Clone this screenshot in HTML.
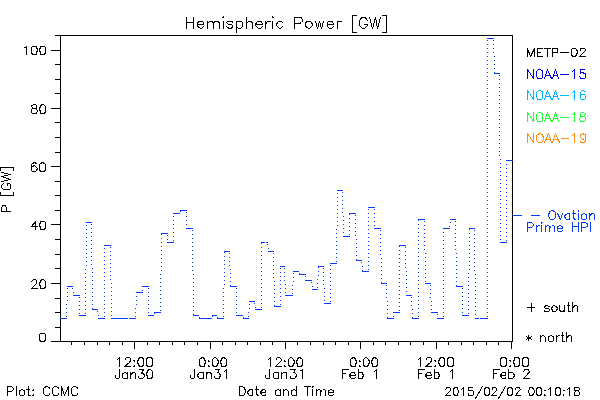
<!DOCTYPE html>
<html><head><meta charset="utf-8"><style>
html,body{margin:0;padding:0;background:#fff;width:600px;height:400px;overflow:hidden}
svg{display:block}
</style></head><body>
<svg width="600" height="400" viewBox="0 0 600 400">
<rect width="600" height="400" fill="#fff"/>
<g shape-rendering="crispEdges" stroke="#000" stroke-width="1" fill="none">
<path d="M60.5 35V342M512.5 35V342M55 35.5H513M51 341.5H513"/>
<path d="M51 341.5H60M55 327.5H60M55 312.5H60M55 298.5H60M51 283.5H60M55 268.5H60M55 254.5H60M55 239.5H60M51 224.5H60M55 210.5H60M55 195.5H60M55 181.5H60M51 166.5H60M55 152.5H60M55 137.5H60M55 122.5H60M51 108.5H60M55 93.5H60M55 79.5H60M55 64.5H60M51 50.5H60M55 35.5H60M71.5 342V345M84.5 342V345M97.5 342V345M109.5 342V345M122.5 342V345M134.5 342V349M147.5 342V345M159.5 342V345M172.5 342V345M184.5 342V345M197.5 342V345M210.5 342V349M222.5 342V345M235.5 342V345M247.5 342V345M260.5 342V345M272.5 342V345M285.5 342V349M297.5 342V345M310.5 342V345M323.5 342V345M335.5 342V345M348.5 342V345M360.5 342V349M373.5 342V345M385.5 342V345M398.5 342V345M410.5 342V345M423.5 342V345M436.5 342V349M448.5 342V345M461.5 342V345M473.5 342V345M486.5 342V345M498.5 342V345M511.5 342V349"/>
</g>
<g shape-rendering="crispEdges" stroke="#0a3cff" stroke-width="1" fill="none">
<path d="M60 318.5H67M67 286.5H73M73 295.5H80M79 315.5H86M86 222.5H92M92 309.5H98M98 318.5H105M104 245.5H111M111 318.5H136M136 292.5H143M142 286.5H149M148 315.5H154M154 312.5H161M161 233.5H168M167 242.5H174M173 213.5H180M180 210.5H187M186 228.5H193M193 315.5H199M199 318.5H212M212 315.5H217M217 318.5H224M224 251.5H230M230 286.5H237M236 315.5H243M243 318.5H249M249 301.5H255M255 309.5H262M261 242.5H268M268 251.5H274M274 306.5H281M280 266.5H285M285 295.5H293M293 271.5H299M299 274.5H306M305 280.5H312M312 289.5H318M318 266.5H324M324 303.5H331M330 263.5H337M337 190.5H343M343 236.5H350M349 213.5H356M356 260.5H362M362 271.5H369M368 207.5H375M374 228.5H381M381 283.5H387M387 318.5H394M393 312.5H400M399 245.5H406M406 295.5H412M412 318.5H419M418 219.5H425M425 283.5H431M431 312.5H438M437 318.5H444M443 228.5H450M450 219.5H456M456 286.5H463M462 315.5H469M469 228.5H475M475 318.5H488M487 38.5H494M494 73.5H500M500 242.5H507M506 160.5H513M513 215.5H522"/>
<path d="M66 304h1v1h-1zM66 308h1v1h-1zM66 312h1v1h-1zM66 316h1v1h-1zM67 288h1v1h-1zM67 292h1v1h-1zM67 296h1v1h-1zM67 300h1v1h-1zM72 288h1v1h-1zM73 292h1v1h-1zM79 297h1v1h-1zM79 301h1v1h-1zM79 305h1v1h-1zM79 309h1v1h-1zM79 313h1v1h-1zM85 269h1v1h-1zM85 273h1v1h-1zM85 277h1v1h-1zM85 281h1v1h-1zM85 285h1v1h-1zM85 289h1v1h-1zM85 293h1v1h-1zM85 297h1v1h-1zM85 301h1v1h-1zM85 305h1v1h-1zM85 309h1v1h-1zM85 313h1v1h-1zM86 225h1v1h-1zM86 229h1v1h-1zM86 233h1v1h-1zM86 237h1v1h-1zM86 241h1v1h-1zM86 245h1v1h-1zM86 249h1v1h-1zM86 253h1v1h-1zM86 257h1v1h-1zM86 261h1v1h-1zM86 265h1v1h-1zM91 224h1v1h-1zM91 228h1v1h-1zM91 232h1v1h-1zM91 236h1v1h-1zM91 240h1v1h-1zM91 244h1v1h-1zM91 248h1v1h-1zM91 252h1v1h-1zM91 256h1v1h-1zM91 260h1v1h-1zM91 264h1v1h-1zM92 268h1v1h-1zM92 272h1v1h-1zM92 276h1v1h-1zM92 280h1v1h-1zM92 284h1v1h-1zM92 288h1v1h-1zM92 292h1v1h-1zM92 296h1v1h-1zM92 300h1v1h-1zM92 304h1v1h-1zM92 308h1v1h-1zM97 311h1v1h-1zM98 315h1v1h-1zM104 248h1v1h-1zM104 252h1v1h-1zM104 256h1v1h-1zM104 260h1v1h-1zM104 264h1v1h-1zM104 268h1v1h-1zM104 272h1v1h-1zM104 276h1v1h-1zM104 280h1v1h-1zM104 284h1v1h-1zM104 288h1v1h-1zM104 292h1v1h-1zM104 296h1v1h-1zM104 300h1v1h-1zM104 304h1v1h-1zM104 308h1v1h-1zM104 312h1v1h-1zM104 316h1v1h-1zM110 247h1v1h-1zM110 251h1v1h-1zM110 255h1v1h-1zM110 259h1v1h-1zM110 263h1v1h-1zM110 267h1v1h-1zM110 271h1v1h-1zM110 275h1v1h-1zM110 279h1v1h-1zM111 283h1v1h-1zM111 287h1v1h-1zM111 291h1v1h-1zM111 295h1v1h-1zM111 299h1v1h-1zM111 303h1v1h-1zM111 307h1v1h-1zM111 311h1v1h-1zM111 315h1v1h-1zM135 308h1v1h-1zM135 312h1v1h-1zM135 316h1v1h-1zM136 296h1v1h-1zM136 300h1v1h-1zM136 304h1v1h-1zM142 290h1v1h-1zM148 288h1v1h-1zM148 292h1v1h-1zM148 296h1v1h-1zM148 300h1v1h-1zM148 304h1v1h-1zM148 308h1v1h-1zM148 312h1v1h-1zM154 313h1v1h-1zM160 274h1v1h-1zM160 278h1v1h-1zM160 282h1v1h-1zM160 286h1v1h-1zM160 290h1v1h-1zM160 294h1v1h-1zM160 298h1v1h-1zM160 302h1v1h-1zM160 306h1v1h-1zM160 310h1v1h-1zM161 234h1v1h-1zM161 238h1v1h-1zM161 242h1v1h-1zM161 246h1v1h-1zM161 250h1v1h-1zM161 254h1v1h-1zM161 258h1v1h-1zM161 262h1v1h-1zM161 266h1v1h-1zM161 270h1v1h-1zM167 235h1v1h-1zM167 239h1v1h-1zM173 216h1v1h-1zM173 220h1v1h-1zM173 224h1v1h-1zM173 228h1v1h-1zM173 232h1v1h-1zM173 236h1v1h-1zM173 240h1v1h-1zM180 211h1v1h-1zM186 212h1v1h-1zM186 216h1v1h-1zM186 220h1v1h-1zM186 224h1v1h-1zM192 230h1v1h-1zM192 234h1v1h-1zM192 238h1v1h-1zM192 242h1v1h-1zM192 246h1v1h-1zM192 250h1v1h-1zM192 254h1v1h-1zM192 258h1v1h-1zM192 262h1v1h-1zM192 266h1v1h-1zM192 270h1v1h-1zM193 274h1v1h-1zM193 278h1v1h-1zM193 282h1v1h-1zM193 286h1v1h-1zM193 290h1v1h-1zM193 294h1v1h-1zM193 298h1v1h-1zM193 302h1v1h-1zM193 306h1v1h-1zM193 310h1v1h-1zM193 314h1v1h-1zM199 317h1v1h-1zM212 316h1v1h-1zM217 317h1v1h-1zM223 288h1v1h-1zM223 292h1v1h-1zM223 296h1v1h-1zM223 300h1v1h-1zM223 304h1v1h-1zM223 308h1v1h-1zM223 312h1v1h-1zM223 316h1v1h-1zM224 252h1v1h-1zM224 256h1v1h-1zM224 260h1v1h-1zM224 264h1v1h-1zM224 268h1v1h-1zM224 272h1v1h-1zM224 276h1v1h-1zM224 280h1v1h-1zM224 284h1v1h-1zM229 253h1v1h-1zM229 257h1v1h-1zM229 261h1v1h-1zM229 265h1v1h-1zM230 269h1v1h-1zM230 273h1v1h-1zM230 277h1v1h-1zM230 281h1v1h-1zM230 285h1v1h-1zM236 288h1v1h-1zM236 292h1v1h-1zM236 296h1v1h-1zM236 300h1v1h-1zM236 304h1v1h-1zM236 308h1v1h-1zM236 312h1v1h-1zM243 317h1v1h-1zM248 312h1v1h-1zM248 316h1v1h-1zM249 304h1v1h-1zM249 308h1v1h-1zM254 303h1v1h-1zM255 307h1v1h-1zM261 243h1v1h-1zM261 247h1v1h-1zM261 251h1v1h-1zM261 255h1v1h-1zM261 259h1v1h-1zM261 263h1v1h-1zM261 267h1v1h-1zM261 271h1v1h-1zM261 275h1v1h-1zM261 279h1v1h-1zM261 283h1v1h-1zM261 287h1v1h-1zM261 291h1v1h-1zM261 295h1v1h-1zM261 299h1v1h-1zM261 303h1v1h-1zM261 307h1v1h-1zM267 244h1v1h-1zM268 248h1v1h-1zM273 253h1v1h-1zM273 257h1v1h-1zM273 261h1v1h-1zM273 265h1v1h-1zM273 269h1v1h-1zM273 273h1v1h-1zM273 277h1v1h-1zM274 281h1v1h-1zM274 285h1v1h-1zM274 289h1v1h-1zM274 293h1v1h-1zM274 297h1v1h-1zM274 301h1v1h-1zM274 305h1v1h-1zM280 268h1v1h-1zM280 272h1v1h-1zM280 276h1v1h-1zM280 280h1v1h-1zM280 284h1v1h-1zM280 288h1v1h-1zM280 292h1v1h-1zM280 296h1v1h-1zM280 300h1v1h-1zM280 304h1v1h-1zM284 268h1v1h-1zM284 272h1v1h-1zM284 276h1v1h-1zM284 280h1v1h-1zM285 284h1v1h-1zM285 288h1v1h-1zM285 292h1v1h-1zM292 285h1v1h-1zM292 289h1v1h-1zM292 293h1v1h-1zM293 273h1v1h-1zM293 277h1v1h-1zM293 281h1v1h-1zM299 273h1v1h-1zM305 276h1v1h-1zM311 282h1v1h-1zM312 286h1v1h-1zM317 279h1v1h-1zM317 283h1v1h-1zM317 287h1v1h-1zM318 267h1v1h-1zM318 271h1v1h-1zM318 275h1v1h-1zM323 268h1v1h-1zM323 272h1v1h-1zM323 276h1v1h-1zM323 280h1v1h-1zM323 284h1v1h-1zM324 288h1v1h-1zM324 292h1v1h-1zM324 296h1v1h-1zM324 300h1v1h-1zM330 265h1v1h-1zM330 269h1v1h-1zM330 273h1v1h-1zM330 277h1v1h-1zM330 281h1v1h-1zM330 285h1v1h-1zM330 289h1v1h-1zM330 293h1v1h-1zM330 297h1v1h-1zM330 301h1v1h-1zM336 229h1v1h-1zM336 233h1v1h-1zM336 237h1v1h-1zM336 241h1v1h-1zM336 245h1v1h-1zM336 249h1v1h-1zM336 253h1v1h-1zM336 257h1v1h-1zM336 261h1v1h-1zM337 193h1v1h-1zM337 197h1v1h-1zM337 201h1v1h-1zM337 205h1v1h-1zM337 209h1v1h-1zM337 213h1v1h-1zM337 217h1v1h-1zM337 221h1v1h-1zM337 225h1v1h-1zM342 192h1v1h-1zM342 196h1v1h-1zM342 200h1v1h-1zM342 204h1v1h-1zM342 208h1v1h-1zM342 212h1v1h-1zM343 216h1v1h-1zM343 220h1v1h-1zM343 224h1v1h-1zM343 228h1v1h-1zM343 232h1v1h-1zM349 214h1v1h-1zM349 218h1v1h-1zM349 222h1v1h-1zM349 226h1v1h-1zM349 230h1v1h-1zM349 234h1v1h-1zM355 215h1v1h-1zM355 219h1v1h-1zM355 223h1v1h-1zM355 227h1v1h-1zM355 231h1v1h-1zM355 235h1v1h-1zM356 239h1v1h-1zM356 243h1v1h-1zM356 247h1v1h-1zM356 251h1v1h-1zM356 255h1v1h-1zM356 259h1v1h-1zM361 262h1v1h-1zM362 266h1v1h-1zM362 270h1v1h-1zM368 209h1v1h-1zM368 213h1v1h-1zM368 217h1v1h-1zM368 221h1v1h-1zM368 225h1v1h-1zM368 229h1v1h-1zM368 233h1v1h-1zM368 237h1v1h-1zM368 241h1v1h-1zM368 245h1v1h-1zM368 249h1v1h-1zM368 253h1v1h-1zM368 257h1v1h-1zM368 261h1v1h-1zM368 265h1v1h-1zM368 269h1v1h-1zM374 209h1v1h-1zM374 213h1v1h-1zM374 217h1v1h-1zM374 221h1v1h-1zM374 225h1v1h-1zM380 230h1v1h-1zM380 234h1v1h-1zM380 238h1v1h-1zM380 242h1v1h-1zM380 246h1v1h-1zM380 250h1v1h-1zM380 254h1v1h-1zM381 258h1v1h-1zM381 262h1v1h-1zM381 266h1v1h-1zM381 270h1v1h-1zM381 274h1v1h-1zM381 278h1v1h-1zM381 282h1v1h-1zM386 285h1v1h-1zM386 289h1v1h-1zM386 293h1v1h-1zM386 297h1v1h-1zM387 301h1v1h-1zM387 305h1v1h-1zM387 309h1v1h-1zM387 313h1v1h-1zM387 317h1v1h-1zM393 316h1v1h-1zM399 246h1v1h-1zM399 250h1v1h-1zM399 254h1v1h-1zM399 258h1v1h-1zM399 262h1v1h-1zM399 266h1v1h-1zM399 270h1v1h-1zM399 274h1v1h-1zM399 278h1v1h-1zM399 282h1v1h-1zM399 286h1v1h-1zM399 290h1v1h-1zM399 294h1v1h-1zM399 298h1v1h-1zM399 302h1v1h-1zM399 306h1v1h-1zM399 310h1v1h-1zM405 247h1v1h-1zM405 251h1v1h-1zM405 255h1v1h-1zM405 259h1v1h-1zM405 263h1v1h-1zM405 267h1v1h-1zM406 271h1v1h-1zM406 275h1v1h-1zM406 279h1v1h-1zM406 283h1v1h-1zM406 287h1v1h-1zM406 291h1v1h-1zM411 297h1v1h-1zM411 301h1v1h-1zM411 305h1v1h-1zM412 309h1v1h-1zM412 313h1v1h-1zM412 317h1v1h-1zM418 220h1v1h-1zM418 224h1v1h-1zM418 228h1v1h-1zM418 232h1v1h-1zM418 236h1v1h-1zM418 240h1v1h-1zM418 244h1v1h-1zM418 248h1v1h-1zM418 252h1v1h-1zM418 256h1v1h-1zM418 260h1v1h-1zM418 264h1v1h-1zM418 268h1v1h-1zM418 272h1v1h-1zM418 276h1v1h-1zM418 280h1v1h-1zM418 284h1v1h-1zM418 288h1v1h-1zM418 292h1v1h-1zM418 296h1v1h-1zM418 300h1v1h-1zM418 304h1v1h-1zM418 308h1v1h-1zM418 312h1v1h-1zM418 316h1v1h-1zM424 221h1v1h-1zM424 225h1v1h-1zM424 229h1v1h-1zM424 233h1v1h-1zM424 237h1v1h-1zM424 241h1v1h-1zM424 245h1v1h-1zM424 249h1v1h-1zM425 253h1v1h-1zM425 257h1v1h-1zM425 261h1v1h-1zM425 265h1v1h-1zM425 269h1v1h-1zM425 273h1v1h-1zM425 277h1v1h-1zM425 281h1v1h-1zM430 285h1v1h-1zM430 289h1v1h-1zM430 293h1v1h-1zM430 297h1v1h-1zM431 301h1v1h-1zM431 305h1v1h-1zM431 309h1v1h-1zM437 314h1v1h-1zM443 232h1v1h-1zM443 236h1v1h-1zM443 240h1v1h-1zM443 244h1v1h-1zM443 248h1v1h-1zM443 252h1v1h-1zM443 256h1v1h-1zM443 260h1v1h-1zM443 264h1v1h-1zM443 268h1v1h-1zM443 272h1v1h-1zM443 276h1v1h-1zM443 280h1v1h-1zM443 284h1v1h-1zM443 288h1v1h-1zM443 292h1v1h-1zM443 296h1v1h-1zM443 300h1v1h-1zM443 304h1v1h-1zM443 308h1v1h-1zM443 312h1v1h-1zM443 316h1v1h-1zM449 226h1v1h-1zM450 222h1v1h-1zM455 221h1v1h-1zM455 225h1v1h-1zM455 229h1v1h-1zM455 233h1v1h-1zM455 237h1v1h-1zM455 241h1v1h-1zM455 245h1v1h-1zM455 249h1v1h-1zM456 253h1v1h-1zM456 257h1v1h-1zM456 261h1v1h-1zM456 265h1v1h-1zM456 269h1v1h-1zM456 273h1v1h-1zM456 277h1v1h-1zM456 281h1v1h-1zM456 285h1v1h-1zM462 288h1v1h-1zM462 292h1v1h-1zM462 296h1v1h-1zM462 300h1v1h-1zM462 304h1v1h-1zM462 308h1v1h-1zM462 312h1v1h-1zM468 273h1v1h-1zM468 277h1v1h-1zM468 281h1v1h-1zM468 285h1v1h-1zM468 289h1v1h-1zM468 293h1v1h-1zM468 297h1v1h-1zM468 301h1v1h-1zM468 305h1v1h-1zM468 309h1v1h-1zM468 313h1v1h-1zM469 229h1v1h-1zM469 233h1v1h-1zM469 237h1v1h-1zM469 241h1v1h-1zM469 245h1v1h-1zM469 249h1v1h-1zM469 253h1v1h-1zM469 257h1v1h-1zM469 261h1v1h-1zM469 265h1v1h-1zM469 269h1v1h-1zM474 230h1v1h-1zM474 234h1v1h-1zM474 238h1v1h-1zM474 242h1v1h-1zM474 246h1v1h-1zM474 250h1v1h-1zM474 254h1v1h-1zM474 258h1v1h-1zM474 262h1v1h-1zM474 266h1v1h-1zM474 270h1v1h-1zM475 274h1v1h-1zM475 278h1v1h-1zM475 282h1v1h-1zM475 286h1v1h-1zM475 290h1v1h-1zM475 294h1v1h-1zM475 298h1v1h-1zM475 302h1v1h-1zM475 306h1v1h-1zM475 310h1v1h-1zM475 314h1v1h-1zM487 40h1v1h-1zM487 44h1v1h-1zM487 48h1v1h-1zM487 52h1v1h-1zM487 56h1v1h-1zM487 60h1v1h-1zM487 64h1v1h-1zM487 68h1v1h-1zM487 72h1v1h-1zM487 76h1v1h-1zM487 80h1v1h-1zM487 84h1v1h-1zM487 88h1v1h-1zM487 92h1v1h-1zM487 96h1v1h-1zM487 100h1v1h-1zM487 104h1v1h-1zM487 108h1v1h-1zM487 112h1v1h-1zM487 116h1v1h-1zM487 120h1v1h-1zM487 124h1v1h-1zM487 128h1v1h-1zM487 132h1v1h-1zM487 136h1v1h-1zM487 140h1v1h-1zM487 144h1v1h-1zM487 148h1v1h-1zM487 152h1v1h-1zM487 156h1v1h-1zM487 160h1v1h-1zM487 164h1v1h-1zM487 168h1v1h-1zM487 172h1v1h-1zM487 176h1v1h-1zM487 180h1v1h-1zM487 184h1v1h-1zM487 188h1v1h-1zM487 192h1v1h-1zM487 196h1v1h-1zM487 200h1v1h-1zM487 204h1v1h-1zM487 208h1v1h-1zM487 212h1v1h-1zM487 216h1v1h-1zM487 220h1v1h-1zM487 224h1v1h-1zM487 228h1v1h-1zM487 232h1v1h-1zM487 236h1v1h-1zM487 240h1v1h-1zM487 244h1v1h-1zM487 248h1v1h-1zM487 252h1v1h-1zM487 256h1v1h-1zM487 260h1v1h-1zM487 264h1v1h-1zM487 268h1v1h-1zM487 272h1v1h-1zM487 276h1v1h-1zM487 280h1v1h-1zM487 284h1v1h-1zM487 288h1v1h-1zM487 292h1v1h-1zM487 296h1v1h-1zM487 300h1v1h-1zM487 304h1v1h-1zM487 308h1v1h-1zM487 312h1v1h-1zM487 316h1v1h-1zM493 40h1v1h-1zM493 44h1v1h-1zM493 48h1v1h-1zM493 52h1v1h-1zM494 56h1v1h-1zM494 60h1v1h-1zM494 64h1v1h-1zM494 68h1v1h-1zM494 72h1v1h-1zM499 75h1v1h-1zM499 79h1v1h-1zM499 83h1v1h-1zM499 87h1v1h-1zM499 91h1v1h-1zM499 95h1v1h-1zM499 99h1v1h-1zM499 103h1v1h-1zM499 107h1v1h-1zM499 111h1v1h-1zM499 115h1v1h-1zM499 119h1v1h-1zM499 123h1v1h-1zM499 127h1v1h-1zM499 131h1v1h-1zM499 135h1v1h-1zM499 139h1v1h-1zM499 143h1v1h-1zM499 147h1v1h-1zM499 151h1v1h-1zM499 155h1v1h-1zM500 159h1v1h-1zM500 163h1v1h-1zM500 167h1v1h-1zM500 171h1v1h-1zM500 175h1v1h-1zM500 179h1v1h-1zM500 183h1v1h-1zM500 187h1v1h-1zM500 191h1v1h-1zM500 195h1v1h-1zM500 199h1v1h-1zM500 203h1v1h-1zM500 207h1v1h-1zM500 211h1v1h-1zM500 215h1v1h-1zM500 219h1v1h-1zM500 223h1v1h-1zM500 227h1v1h-1zM500 231h1v1h-1zM500 235h1v1h-1zM500 239h1v1h-1zM506 164h1v1h-1zM506 168h1v1h-1zM506 172h1v1h-1zM506 176h1v1h-1zM506 180h1v1h-1zM506 184h1v1h-1zM506 188h1v1h-1zM506 192h1v1h-1zM506 196h1v1h-1zM506 200h1v1h-1zM506 204h1v1h-1zM506 208h1v1h-1zM506 212h1v1h-1zM506 216h1v1h-1zM506 220h1v1h-1zM506 224h1v1h-1zM506 228h1v1h-1zM506 232h1v1h-1zM506 236h1v1h-1zM506 240h1v1h-1z" fill="#0a3cff" stroke="none"/>
</g>
<path shape-rendering="crispEdges" fill="#fff" d="M128 318h1v1h-1zM479 318h1v1h-1zM265 242h1v1h-1z"/>
<g shape-rendering="crispEdges" stroke-width="1" fill="none" stroke-linecap="square">
<path stroke="#000" d="M186.5 17.5L186.5 28.5M193.5 17.5L193.5 28.5M186.5 22.5L193.5 22.5M197.5 24.5L203.5 24.5L203.5 23.5L203.5 22.5L202.5 21.5L201.5 21.5L200.5 21.5L199.5 21.5L197.5 22.5L197.5 24.5L197.5 25.5L197.5 26.5L199.5 27.5L200.5 28.5L201.5 28.5L202.5 27.5L203.5 26.5M207.5 21.5L207.5 28.5M207.5 23.5L209.5 21.5L210.5 21.5L211.5 21.5L212.5 21.5L213.5 23.5L213.5 28.5M213.5 23.5L214.5 21.5L215.5 21.5L217.5 21.5L218.5 21.5L219.5 23.5L219.5 28.5M222.5 17.5L223.5 17.5L223.5 17.5L223.5 16.5L222.5 17.5M223.5 21.5L223.5 28.5M232.5 22.5L232.5 21.5L230.5 21.5L229.5 21.5L227.5 21.5L226.5 22.5L227.5 23.5L228.5 24.5L231.5 24.5L232.5 25.5L232.5 26.5L232.5 26.5L232.5 27.5L230.5 28.5L229.5 28.5L227.5 27.5L226.5 26.5M236.5 21.5L236.5 32.5M236.5 22.5L237.5 21.5L238.5 21.5L240.5 21.5L241.5 21.5L242.5 22.5L242.5 24.5L242.5 25.5L242.5 26.5L241.5 27.5L240.5 28.5L238.5 28.5L237.5 27.5L236.5 26.5M246.5 17.5L246.5 28.5M246.5 23.5L248.5 21.5L249.5 21.5L250.5 21.5L251.5 21.5L252.5 23.5L252.5 28.5M255.5 24.5L262.5 24.5L262.5 23.5L261.5 22.5L261.5 21.5L260.5 21.5L258.5 21.5L257.5 21.5L256.5 22.5L255.5 24.5L255.5 25.5L256.5 26.5L257.5 27.5L258.5 28.5L260.5 28.5L261.5 27.5L262.5 26.5M265.5 21.5L265.5 28.5M265.5 24.5L266.5 22.5L267.5 21.5L268.5 21.5L270.5 21.5M272.5 17.5L272.5 17.5L273.5 17.5L272.5 16.5L272.5 17.5M272.5 21.5L272.5 28.5M282.5 22.5L281.5 21.5L280.5 21.5L279.5 21.5L278.5 21.5L277.5 22.5L276.5 24.5L276.5 25.5L277.5 26.5L278.5 27.5L279.5 28.5L280.5 28.5L281.5 27.5L282.5 26.5M294.5 17.5L294.5 28.5M294.5 17.5L299.5 17.5L301.5 17.5L301.5 18.5L302.5 19.5L302.5 21.5L301.5 22.5L301.5 22.5L299.5 23.5L294.5 23.5M308.5 21.5L307.5 21.5L305.5 22.5L305.5 24.5L305.5 25.5L305.5 26.5L307.5 27.5L308.5 28.5L309.5 28.5L310.5 27.5L311.5 26.5L312.5 25.5L312.5 24.5L311.5 22.5L310.5 21.5L309.5 21.5L308.5 21.5M315.5 21.5L317.5 28.5M319.5 21.5L317.5 28.5M319.5 21.5L321.5 28.5M323.5 21.5L321.5 28.5M327.5 24.5L333.5 24.5L333.5 23.5L332.5 22.5L332.5 21.5L331.5 21.5L329.5 21.5L328.5 21.5L327.5 22.5L327.5 24.5L327.5 25.5L327.5 26.5L328.5 27.5L329.5 28.5L331.5 28.5L332.5 27.5L333.5 26.5M337.5 21.5L337.5 28.5M337.5 24.5L337.5 22.5L338.5 21.5L339.5 21.5L341.5 21.5M352.5 15.5L352.5 32.5M352.5 15.5L352.5 32.5M352.5 15.5L356.5 15.5M352.5 32.5L356.5 32.5M367.5 20.5L366.5 19.5L365.5 17.5L364.5 17.5L362.5 17.5L361.5 17.5L360.5 19.5L359.5 20.5L359.5 21.5L359.5 24.5L359.5 25.5L360.5 26.5L361.5 27.5L362.5 28.5L364.5 28.5L365.5 27.5L366.5 26.5L367.5 25.5L367.5 24.5M364.5 24.5L367.5 24.5M369.5 17.5L372.5 28.5M375.5 17.5L372.5 28.5M375.5 17.5L377.5 28.5M380.5 17.5L377.5 28.5M386.5 15.5L386.5 32.5M386.5 15.5L386.5 32.5M382.5 15.5L386.5 15.5M382.5 32.5L386.5 32.5M24.5 47.5L25.5 47.5L26.5 46.5L26.5 54.5M33.5 46.5L32.5 46.5L31.5 47.5L31.5 49.5L31.5 50.5L31.5 52.5L32.5 54.5L33.5 54.5L34.5 54.5L36.5 54.5L36.5 52.5L37.5 50.5L37.5 49.5L36.5 47.5L36.5 46.5L34.5 46.5L33.5 46.5M42.5 46.5L40.5 46.5L40.5 47.5L39.5 49.5L39.5 50.5L40.5 52.5L40.5 54.5L42.5 54.5L43.5 54.5L44.5 54.5L45.5 52.5L45.5 50.5L45.5 49.5L45.5 47.5L44.5 46.5L43.5 46.5L42.5 46.5M33.5 104.5L32.5 105.5L31.5 105.5L31.5 106.5L32.5 107.5L33.5 108.5L34.5 108.5L36.5 108.5L36.5 109.5L37.5 110.5L37.5 111.5L36.5 112.5L36.5 113.5L35.5 113.5L33.5 113.5L32.5 113.5L31.5 112.5L31.5 111.5L31.5 110.5L31.5 109.5L32.5 108.5L33.5 108.5L35.5 108.5L36.5 107.5L36.5 106.5L36.5 105.5L36.5 105.5L35.5 104.5L33.5 104.5M42.5 104.5L40.5 105.5L40.5 106.5L39.5 108.5L39.5 109.5L40.5 111.5L40.5 113.5L42.5 113.5L43.5 113.5L44.5 113.5L45.5 111.5L45.5 109.5L45.5 108.5L45.5 106.5L44.5 105.5L43.5 104.5L42.5 104.5M36.5 163.5L36.5 163.5L34.5 162.5L34.5 162.5L32.5 163.5L31.5 164.5L31.5 166.5L31.5 168.5L31.5 170.5L32.5 171.5L34.5 171.5L34.5 171.5L35.5 171.5L36.5 170.5L37.5 168.5L37.5 168.5L36.5 167.5L35.5 166.5L34.5 165.5L34.5 165.5L32.5 166.5L31.5 167.5L31.5 168.5M42.5 162.5L40.5 163.5L39.5 164.5L39.5 166.5L39.5 167.5L39.5 169.5L40.5 171.5L42.5 171.5L42.5 171.5L44.5 171.5L45.5 169.5L45.5 167.5L45.5 166.5L45.5 164.5L44.5 163.5L42.5 162.5L42.5 162.5M35.5 221.5L31.5 226.5L37.5 226.5M35.5 221.5L35.5 229.5M42.5 221.5L40.5 221.5L40.5 222.5L39.5 224.5L39.5 225.5L40.5 227.5L40.5 229.5L42.5 229.5L43.5 229.5L44.5 229.5L45.5 227.5L45.5 225.5L45.5 224.5L45.5 222.5L44.5 221.5L43.5 221.5L42.5 221.5M31.5 281.5L31.5 281.5L32.5 280.5L32.5 280.5L33.5 279.5L35.5 279.5L36.5 280.5L36.5 280.5L36.5 281.5L36.5 282.5L36.5 283.5L35.5 284.5L31.5 288.5L37.5 288.5M42.5 279.5L40.5 280.5L40.5 281.5L39.5 283.5L39.5 284.5L40.5 286.5L40.5 288.5L42.5 288.5L43.5 288.5L44.5 288.5L45.5 286.5L45.5 284.5L45.5 283.5L45.5 281.5L44.5 280.5L43.5 279.5L42.5 279.5M42.5 333.5L40.5 333.5L39.5 334.5L39.5 336.5L39.5 337.5L39.5 339.5L40.5 341.5L42.5 341.5L42.5 341.5L44.5 341.5L45.5 339.5L45.5 337.5L45.5 336.5L45.5 334.5L44.5 333.5L42.5 333.5L42.5 333.5M117.5 359.5L118.5 358.5L119.5 357.5L119.5 366.5M125.5 359.5L125.5 359.5L125.5 358.5L126.5 357.5L127.5 357.5L128.5 357.5L129.5 357.5L130.5 358.5L130.5 359.5L130.5 360.5L130.5 360.5L129.5 362.5L124.5 366.5L130.5 366.5M134.5 360.5L133.5 360.5L134.5 361.5L134.5 360.5L134.5 360.5M134.5 365.5L133.5 366.5L134.5 366.5L134.5 366.5L134.5 365.5M140.5 357.5L139.5 357.5L138.5 359.5L137.5 361.5L137.5 362.5L138.5 364.5L139.5 366.5L140.5 366.5L141.5 366.5L142.5 366.5L143.5 364.5L143.5 362.5L143.5 361.5L143.5 359.5L142.5 357.5L141.5 357.5L140.5 357.5M149.5 357.5L147.5 357.5L146.5 359.5L146.5 361.5L146.5 362.5L146.5 364.5L147.5 366.5L149.5 366.5L149.5 366.5L151.5 366.5L152.5 364.5L152.5 362.5L152.5 361.5L152.5 359.5L151.5 357.5L149.5 357.5L149.5 357.5M119.5 369.5L119.5 376.5L119.5 377.5L118.5 378.5L117.5 378.5L117.5 378.5L116.5 378.5L115.5 377.5L115.5 376.5L115.5 375.5M127.5 372.5L127.5 378.5M127.5 373.5L126.5 373.5L125.5 372.5L124.5 372.5L123.5 373.5L122.5 373.5L122.5 375.5L122.5 376.5L122.5 377.5L123.5 378.5L124.5 378.5L125.5 378.5L126.5 378.5L127.5 377.5M130.5 372.5L130.5 378.5M130.5 374.5L132.5 373.5L132.5 372.5L134.5 372.5L135.5 373.5L135.5 374.5L135.5 378.5M139.5 369.5L143.5 369.5L141.5 373.5L142.5 373.5L143.5 373.5L143.5 373.5L144.5 375.5L144.5 376.5L143.5 377.5L142.5 378.5L141.5 378.5L140.5 378.5L139.5 378.5L138.5 377.5L138.5 376.5M149.5 369.5L147.5 370.5L147.5 371.5L146.5 373.5L146.5 374.5L147.5 376.5L147.5 378.5L149.5 378.5L150.5 378.5L151.5 378.5L152.5 376.5L152.5 374.5L152.5 373.5L152.5 371.5L151.5 370.5L150.5 369.5L149.5 369.5M202.5 357.5L200.5 358.5L199.5 359.5L199.5 361.5L199.5 362.5L199.5 364.5L200.5 366.5L202.5 366.5L202.5 366.5L204.5 366.5L204.5 364.5L205.5 362.5L205.5 361.5L204.5 359.5L204.5 358.5L202.5 357.5L202.5 357.5M208.5 360.5L208.5 361.5L208.5 361.5L209.5 361.5L208.5 360.5M208.5 365.5L208.5 366.5L208.5 366.5L209.5 366.5L208.5 365.5M214.5 357.5L213.5 358.5L212.5 359.5L212.5 361.5L212.5 362.5L212.5 364.5L213.5 366.5L214.5 366.5L215.5 366.5L216.5 366.5L217.5 364.5L218.5 362.5L218.5 361.5L217.5 359.5L216.5 358.5L215.5 357.5L214.5 357.5M223.5 357.5L221.5 358.5L221.5 359.5L220.5 361.5L220.5 362.5L221.5 364.5L221.5 366.5L223.5 366.5L223.5 366.5L225.5 366.5L226.5 364.5L226.5 362.5L226.5 361.5L226.5 359.5L225.5 358.5L223.5 357.5L223.5 357.5M194.5 369.5L194.5 376.5L194.5 377.5L193.5 378.5L193.5 378.5L192.5 378.5L191.5 378.5L190.5 377.5L190.5 376.5L190.5 375.5M203.5 372.5L203.5 378.5M203.5 373.5L202.5 372.5L201.5 372.5L200.5 372.5L199.5 372.5L198.5 373.5L197.5 375.5L197.5 375.5L198.5 377.5L199.5 378.5L200.5 378.5L201.5 378.5L202.5 378.5L203.5 377.5M206.5 372.5L206.5 378.5M206.5 374.5L207.5 372.5L208.5 372.5L210.5 372.5L210.5 372.5L211.5 374.5L211.5 378.5M215.5 369.5L219.5 369.5L217.5 372.5L218.5 372.5L219.5 373.5L219.5 373.5L220.5 375.5L220.5 375.5L219.5 377.5L219.5 378.5L217.5 378.5L216.5 378.5L215.5 378.5L214.5 377.5L214.5 376.5M224.5 371.5L225.5 370.5L226.5 369.5L226.5 378.5M268.5 359.5L269.5 358.5L270.5 357.5L270.5 366.5M276.5 359.5L276.5 359.5L276.5 358.5L276.5 358.5L277.5 357.5L279.5 357.5L280.5 358.5L280.5 358.5L281.5 359.5L281.5 360.5L280.5 361.5L279.5 362.5L275.5 366.5L281.5 366.5M284.5 360.5L284.5 361.5L284.5 361.5L285.5 361.5L284.5 360.5M284.5 365.5L284.5 366.5L284.5 366.5L285.5 366.5L284.5 365.5M290.5 357.5L289.5 358.5L288.5 359.5L288.5 361.5L288.5 362.5L288.5 364.5L289.5 366.5L290.5 366.5L291.5 366.5L292.5 366.5L293.5 364.5L294.5 362.5L294.5 361.5L293.5 359.5L292.5 358.5L291.5 357.5L290.5 357.5M299.5 357.5L297.5 358.5L297.5 359.5L296.5 361.5L296.5 362.5L297.5 364.5L297.5 366.5L299.5 366.5L299.5 366.5L301.5 366.5L302.5 364.5L302.5 362.5L302.5 361.5L302.5 359.5L301.5 358.5L299.5 357.5L299.5 357.5M269.5 369.5L269.5 376.5L269.5 377.5L269.5 378.5L268.5 378.5L267.5 378.5L266.5 378.5L265.5 377.5L265.5 376.5L265.5 375.5M278.5 372.5L278.5 378.5M278.5 373.5L277.5 372.5L276.5 372.5L275.5 372.5L274.5 372.5L273.5 373.5L273.5 374.5L273.5 375.5L273.5 377.5L274.5 378.5L275.5 378.5L276.5 378.5L277.5 378.5L278.5 377.5M281.5 372.5L281.5 378.5M281.5 374.5L283.5 372.5L284.5 372.5L285.5 372.5L286.5 372.5L286.5 374.5L286.5 378.5M290.5 369.5L295.5 369.5L293.5 372.5L294.5 372.5L295.5 373.5L295.5 373.5L296.5 374.5L296.5 375.5L295.5 377.5L294.5 378.5L293.5 378.5L292.5 378.5L290.5 378.5L290.5 377.5L290.5 376.5M300.5 370.5L301.5 370.5L302.5 369.5L302.5 378.5M353.5 357.5L351.5 358.5L350.5 359.5L350.5 361.5L350.5 362.5L350.5 364.5L351.5 366.5L353.5 366.5L353.5 366.5L355.5 366.5L355.5 364.5L356.5 362.5L356.5 361.5L355.5 359.5L355.5 358.5L353.5 357.5L353.5 357.5M359.5 360.5L359.5 361.5L359.5 361.5L360.5 361.5L359.5 360.5M359.5 365.5L359.5 366.5L359.5 366.5L360.5 366.5L359.5 365.5M365.5 357.5L364.5 358.5L363.5 359.5L363.5 361.5L363.5 362.5L363.5 364.5L364.5 366.5L365.5 366.5L366.5 366.5L367.5 366.5L368.5 364.5L369.5 362.5L369.5 361.5L368.5 359.5L367.5 358.5L366.5 357.5L365.5 357.5M374.5 357.5L372.5 358.5L372.5 359.5L371.5 361.5L371.5 362.5L372.5 364.5L372.5 366.5L374.5 366.5L374.5 366.5L376.5 366.5L377.5 364.5L377.5 362.5L377.5 361.5L377.5 359.5L376.5 358.5L374.5 357.5L374.5 357.5M342.5 369.5L342.5 378.5M342.5 369.5L348.5 369.5M342.5 373.5L345.5 373.5M349.5 375.5L355.5 375.5L355.5 374.5L354.5 373.5L354.5 372.5L353.5 372.5L352.5 372.5L351.5 372.5L350.5 373.5L349.5 375.5L349.5 375.5L350.5 377.5L351.5 378.5L352.5 378.5L353.5 378.5L354.5 378.5L355.5 377.5M358.5 369.5L358.5 378.5M358.5 373.5L359.5 372.5L359.5 372.5L361.5 372.5L362.5 372.5L362.5 373.5L363.5 375.5L363.5 375.5L362.5 377.5L362.5 378.5L361.5 378.5L359.5 378.5L359.5 378.5L358.5 377.5M374.5 371.5L375.5 370.5L376.5 369.5L376.5 378.5M418.5 359.5L419.5 358.5L420.5 357.5L420.5 366.5M426.5 359.5L426.5 359.5L426.5 358.5L427.5 357.5L428.5 357.5L429.5 357.5L430.5 357.5L431.5 358.5L431.5 359.5L431.5 360.5L431.5 360.5L430.5 362.5L425.5 366.5L431.5 366.5M435.5 360.5L434.5 360.5L435.5 361.5L435.5 360.5L435.5 360.5M435.5 365.5L434.5 366.5L435.5 366.5L435.5 366.5L435.5 365.5M441.5 357.5L440.5 357.5L439.5 359.5L438.5 361.5L438.5 362.5L439.5 364.5L440.5 366.5L441.5 366.5L442.5 366.5L443.5 366.5L444.5 364.5L444.5 362.5L444.5 361.5L444.5 359.5L443.5 357.5L442.5 357.5L441.5 357.5M450.5 357.5L448.5 357.5L447.5 359.5L447.5 361.5L447.5 362.5L447.5 364.5L448.5 366.5L450.5 366.5L450.5 366.5L452.5 366.5L453.5 364.5L453.5 362.5L453.5 361.5L453.5 359.5L452.5 357.5L450.5 357.5L450.5 357.5M418.5 369.5L418.5 378.5M418.5 369.5L424.5 369.5M418.5 373.5L421.5 373.5M425.5 375.5L431.5 375.5L431.5 374.5L430.5 373.5L430.5 372.5L429.5 372.5L428.5 372.5L427.5 372.5L426.5 373.5L425.5 375.5L425.5 375.5L426.5 377.5L427.5 378.5L428.5 378.5L429.5 378.5L430.5 378.5L431.5 377.5M434.5 369.5L434.5 378.5M434.5 373.5L435.5 372.5L435.5 372.5L437.5 372.5L438.5 372.5L438.5 373.5L439.5 375.5L439.5 375.5L438.5 377.5L438.5 378.5L437.5 378.5L435.5 378.5L435.5 378.5L434.5 377.5M450.5 371.5L451.5 370.5L452.5 369.5L452.5 378.5M503.5 357.5L501.5 357.5L500.5 359.5L500.5 361.5L500.5 362.5L500.5 364.5L501.5 366.5L503.5 366.5L504.5 366.5L505.5 366.5L506.5 364.5L506.5 362.5L506.5 361.5L506.5 359.5L505.5 357.5L504.5 357.5L503.5 357.5M510.5 360.5L509.5 360.5L510.5 361.5L510.5 360.5L510.5 360.5M510.5 365.5L509.5 366.5L510.5 366.5L510.5 366.5L510.5 365.5M516.5 357.5L514.5 357.5L514.5 359.5L513.5 361.5L513.5 362.5L514.5 364.5L514.5 366.5L516.5 366.5L517.5 366.5L518.5 366.5L519.5 364.5L519.5 362.5L519.5 361.5L519.5 359.5L518.5 357.5L517.5 357.5L516.5 357.5M524.5 357.5L523.5 357.5L522.5 359.5L522.5 361.5L522.5 362.5L522.5 364.5L523.5 366.5L524.5 366.5L525.5 366.5L527.5 366.5L528.5 364.5L528.5 362.5L528.5 361.5L528.5 359.5L527.5 357.5L525.5 357.5L524.5 357.5M493.5 369.5L493.5 378.5M493.5 369.5L499.5 369.5M493.5 373.5L496.5 373.5M500.5 375.5L505.5 375.5L505.5 374.5L505.5 373.5L505.5 372.5L504.5 372.5L502.5 372.5L502.5 372.5L501.5 373.5L500.5 375.5L500.5 375.5L501.5 377.5L502.5 378.5L502.5 378.5L504.5 378.5L505.5 378.5L505.5 377.5M508.5 369.5L508.5 378.5M508.5 373.5L509.5 372.5L510.5 372.5L511.5 372.5L512.5 372.5L513.5 373.5L514.5 375.5L514.5 375.5L513.5 377.5L512.5 378.5L511.5 378.5L510.5 378.5L509.5 378.5L508.5 377.5M523.5 371.5L523.5 371.5L524.5 370.5L524.5 369.5L525.5 369.5L527.5 369.5L528.5 369.5L528.5 370.5L529.5 371.5L529.5 372.5L528.5 372.5L527.5 374.5L523.5 378.5L529.5 378.5M7.5 386.5L7.5 395.5M7.5 386.5L11.5 386.5L12.5 387.5L12.5 387.5L13.5 388.5L13.5 389.5L12.5 390.5L12.5 390.5L11.5 391.5L7.5 391.5M16.5 386.5L16.5 395.5M21.5 389.5L20.5 390.5L19.5 390.5L19.5 392.5L19.5 392.5L19.5 394.5L20.5 395.5L21.5 395.5L22.5 395.5L23.5 395.5L24.5 394.5L24.5 392.5L24.5 392.5L24.5 390.5L23.5 390.5L22.5 389.5L21.5 389.5M28.5 386.5L28.5 393.5L28.5 395.5L29.5 395.5L30.5 395.5M26.5 389.5L29.5 389.5M33.5 389.5L32.5 390.5L33.5 390.5L33.5 390.5L33.5 389.5M33.5 394.5L32.5 395.5L33.5 395.5L33.5 395.5L33.5 394.5M49.5 388.5L49.5 387.5L48.5 387.5L47.5 386.5L45.5 386.5L45.5 387.5L44.5 387.5L43.5 388.5L43.5 390.5L43.5 392.5L43.5 393.5L44.5 394.5L45.5 395.5L45.5 395.5L47.5 395.5L48.5 395.5L49.5 394.5L49.5 393.5M58.5 388.5L58.5 387.5L57.5 387.5L56.5 386.5L54.5 386.5L53.5 387.5L53.5 387.5L52.5 388.5L52.5 390.5L52.5 392.5L52.5 393.5L53.5 394.5L53.5 395.5L54.5 395.5L56.5 395.5L57.5 395.5L58.5 394.5L58.5 393.5M61.5 386.5L61.5 395.5M61.5 386.5L64.5 395.5M68.5 386.5L64.5 395.5M68.5 386.5L68.5 395.5M77.5 388.5L77.5 387.5L76.5 387.5L75.5 386.5L73.5 386.5L72.5 387.5L72.5 387.5L71.5 388.5L71.5 390.5L71.5 392.5L71.5 393.5L72.5 394.5L72.5 395.5L73.5 395.5L75.5 395.5L76.5 395.5L77.5 394.5L77.5 393.5M239.5 386.5L239.5 395.5M239.5 386.5L242.5 386.5L243.5 387.5L244.5 387.5L244.5 388.5L245.5 390.5L245.5 392.5L244.5 393.5L244.5 394.5L243.5 395.5L242.5 395.5L239.5 395.5M252.5 389.5L252.5 395.5M252.5 390.5L252.5 390.5L251.5 389.5L249.5 389.5L249.5 390.5L248.5 390.5L247.5 392.5L247.5 392.5L248.5 394.5L249.5 395.5L249.5 395.5L251.5 395.5L252.5 395.5L252.5 394.5M256.5 386.5L256.5 393.5L257.5 395.5L257.5 395.5L258.5 395.5M255.5 389.5L258.5 389.5M260.5 392.5L265.5 392.5L265.5 391.5L265.5 390.5L265.5 390.5L264.5 389.5L262.5 389.5L262.5 390.5L261.5 390.5L260.5 392.5L260.5 392.5L261.5 394.5L262.5 395.5L262.5 395.5L264.5 395.5L265.5 395.5L265.5 394.5M280.5 389.5L280.5 395.5M280.5 390.5L279.5 390.5L278.5 389.5L277.5 389.5L276.5 390.5L275.5 390.5L275.5 392.5L275.5 392.5L275.5 394.5L276.5 395.5L277.5 395.5L278.5 395.5L279.5 395.5L280.5 394.5M283.5 389.5L283.5 395.5M283.5 391.5L284.5 390.5L285.5 389.5L286.5 389.5L287.5 390.5L288.5 391.5L288.5 395.5M296.5 386.5L296.5 395.5M296.5 390.5L295.5 390.5L294.5 389.5L293.5 389.5L292.5 390.5L291.5 390.5L291.5 392.5L291.5 392.5L291.5 394.5L292.5 395.5L293.5 395.5L294.5 395.5L295.5 395.5L296.5 394.5M307.5 386.5L307.5 395.5M304.5 386.5L310.5 386.5M312.5 386.5L312.5 387.5L313.5 386.5L312.5 386.5L312.5 386.5M312.5 389.5L312.5 395.5M316.5 389.5L316.5 395.5M316.5 391.5L317.5 390.5L318.5 389.5L319.5 389.5L320.5 390.5L320.5 391.5L320.5 395.5M320.5 391.5L322.5 390.5L323.5 389.5L324.5 389.5L325.5 390.5L325.5 391.5L325.5 395.5M328.5 392.5L333.5 392.5L333.5 391.5L333.5 390.5L332.5 390.5L331.5 389.5L330.5 389.5L329.5 390.5L328.5 390.5L328.5 392.5L328.5 392.5L328.5 394.5L329.5 395.5L330.5 395.5L331.5 395.5L332.5 395.5L333.5 394.5M445.5 389.5L445.5 389.5L446.5 388.5L446.5 387.5L447.5 387.5L448.5 387.5L449.5 387.5L450.5 388.5L450.5 389.5L450.5 389.5L450.5 390.5L449.5 391.5L445.5 395.5L450.5 395.5M455.5 387.5L454.5 387.5L453.5 389.5L453.5 390.5L453.5 392.5L453.5 393.5L454.5 395.5L455.5 395.5L456.5 395.5L457.5 395.5L457.5 393.5L458.5 392.5L458.5 390.5L457.5 389.5L457.5 387.5L456.5 387.5L455.5 387.5M461.5 389.5L462.5 388.5L463.5 387.5L463.5 395.5M472.5 387.5L468.5 387.5L468.5 390.5L468.5 390.5L470.5 390.5L471.5 390.5L472.5 390.5L473.5 391.5L473.5 392.5L473.5 393.5L473.5 394.5L472.5 395.5L471.5 395.5L470.5 395.5L468.5 395.5L468.5 394.5L468.5 393.5M482.5 386.5L475.5 398.5M486.5 387.5L485.5 387.5L484.5 389.5L484.5 390.5L484.5 392.5L484.5 393.5L485.5 395.5L486.5 395.5L487.5 395.5L488.5 395.5L489.5 393.5L489.5 392.5L489.5 390.5L489.5 389.5L488.5 387.5L487.5 387.5L486.5 387.5M492.5 389.5L492.5 389.5L492.5 388.5L492.5 387.5L493.5 387.5L495.5 387.5L495.5 387.5L496.5 388.5L496.5 389.5L496.5 389.5L496.5 390.5L495.5 391.5L491.5 395.5L496.5 395.5M505.5 386.5L498.5 398.5M509.5 387.5L508.5 387.5L507.5 389.5L507.5 390.5L507.5 392.5L507.5 393.5L508.5 395.5L509.5 395.5L510.5 395.5L511.5 395.5L512.5 393.5L512.5 392.5L512.5 390.5L512.5 389.5L511.5 387.5L510.5 387.5L509.5 387.5M515.5 389.5L515.5 389.5L515.5 388.5L516.5 387.5L517.5 387.5L518.5 387.5L519.5 387.5L519.5 388.5L520.5 389.5L520.5 389.5L519.5 390.5L518.5 391.5L515.5 395.5L520.5 395.5M531.5 387.5L529.5 387.5L529.5 389.5L528.5 390.5L528.5 392.5L529.5 393.5L529.5 395.5L531.5 395.5L531.5 395.5L532.5 395.5L533.5 393.5L534.5 392.5L534.5 390.5L533.5 389.5L532.5 387.5L531.5 387.5L531.5 387.5M538.5 387.5L537.5 387.5L536.5 389.5L536.5 390.5L536.5 392.5L536.5 393.5L537.5 395.5L538.5 395.5L539.5 395.5L540.5 395.5L541.5 393.5L541.5 392.5L541.5 390.5L541.5 389.5L540.5 387.5L539.5 387.5L538.5 387.5M544.5 390.5L544.5 390.5L544.5 390.5L545.5 390.5L544.5 390.5M544.5 394.5L544.5 395.5L544.5 395.5L545.5 395.5L544.5 394.5M548.5 389.5L549.5 388.5L550.5 387.5L550.5 395.5M557.5 387.5L556.5 387.5L555.5 389.5L555.5 390.5L555.5 392.5L555.5 393.5L556.5 395.5L557.5 395.5L558.5 395.5L559.5 395.5L560.5 393.5L560.5 392.5L560.5 390.5L560.5 389.5L559.5 387.5L558.5 387.5L557.5 387.5M563 390.5h1M563.5 394.5L563.5 395.5L563.5 395.5L563.5 395.5L563.5 394.5M567.5 389.5L568.5 388.5L569.5 387.5L569.5 395.5M576.5 387.5L574.5 387.5L574.5 388.5L574.5 389.5L574.5 390.5L575.5 390.5L577.5 390.5L578.5 391.5L579.5 392.5L579.5 392.5L579.5 393.5L579.5 394.5L578.5 395.5L577.5 395.5L576.5 395.5L574.5 395.5L574.5 394.5L574.5 393.5L574.5 392.5L574.5 392.5L575.5 391.5L576.5 390.5L577.5 390.5L578.5 390.5L579.5 389.5L579.5 388.5L578.5 387.5L577.5 387.5L576.5 387.5M527.5 48.5L527.5 56.5M527.5 48.5L530.5 56.5M534.5 48.5L530.5 56.5M534.5 48.5L534.5 56.5M537.5 48.5L537.5 56.5M537.5 48.5L542.5 48.5M537.5 52.5L540.5 52.5M537.5 56.5L542.5 56.5M547.5 48.5L547.5 56.5M544.5 48.5L550.5 48.5M552.5 48.5L552.5 56.5M552.5 48.5L555.5 48.5L557.5 48.5L557.5 48.5L557.5 49.5L557.5 50.5L557.5 51.5L557.5 52.5L555.5 52.5L552.5 52.5M560.5 52.5L568.5 52.5M573.5 48.5L572.5 48.5L571.5 49.5L571.5 51.5L571.5 52.5L571.5 54.5L572.5 56.5L573.5 56.5L574.5 56.5L575.5 56.5L576.5 54.5L577.5 52.5L577.5 51.5L576.5 49.5L575.5 48.5L574.5 48.5L573.5 48.5M580.5 50.5L580.5 49.5L580.5 48.5L580.5 48.5L581.5 48.5L583.5 48.5L584.5 48.5L584.5 48.5L585.5 49.5L585.5 50.5L584.5 51.5L583.5 52.5L579.5 56.5L585.5 56.5M549.5 306.5L548.5 306.5L547.5 305.5L546.5 305.5L544.5 306.5L544.5 306.5L544.5 307.5L545.5 308.5L547.5 308.5L548.5 308.5L549.5 309.5L549.5 310.5L548.5 311.5L547.5 311.5L546.5 311.5L544.5 311.5L544.5 310.5M553.5 305.5L552.5 306.5L552.5 306.5L551.5 308.5L551.5 308.5L552.5 310.5L552.5 311.5L553.5 311.5L554.5 311.5L555.5 311.5L556.5 310.5L557.5 308.5L557.5 308.5L556.5 306.5L555.5 306.5L554.5 305.5L553.5 305.5M559.5 305.5L559.5 309.5L560.5 311.5L561.5 311.5L562.5 311.5L563.5 311.5L564.5 309.5M564.5 305.5L564.5 311.5M568.5 302.5L568.5 309.5L568.5 311.5L569.5 311.5L570.5 311.5M567.5 305.5L569.5 305.5M572.5 302.5L572.5 311.5M572.5 307.5L574.5 306.5L574.5 305.5L576.5 305.5L577.5 306.5L577.5 307.5L577.5 311.5M540.5 335.5L540.5 341.5M540.5 337.5L541.5 336.5L542.5 335.5L543.5 335.5L544.5 336.5L545.5 337.5L545.5 341.5M550.5 335.5L549.5 336.5L548.5 336.5L548.5 338.5L548.5 338.5L548.5 340.5L549.5 341.5L550.5 341.5L551.5 341.5L552.5 341.5L553.5 340.5L553.5 338.5L553.5 338.5L553.5 336.5L552.5 336.5L551.5 335.5L550.5 335.5M556.5 335.5L556.5 341.5M556.5 338.5L556.5 336.5L557.5 336.5L558.5 335.5L559.5 335.5M562.5 332.5L562.5 339.5L562.5 341.5L563.5 341.5L564.5 341.5M561.5 335.5L563.5 335.5M566.5 332.5L566.5 341.5M566.5 337.5L568.5 336.5L568.5 335.5L570.5 335.5L571.5 336.5L571.5 337.5L571.5 341.5M1.5 211.5L10.5 211.5M1.5 211.5L1.5 207.5L2.5 206.5L2.5 205.5L3.5 205.5L4.5 205.5L5.5 205.5L5.5 206.5L6.5 207.5L6.5 211.5M0.5 195.5L13.5 195.5M0.5 195.5L13.5 195.5M0.5 195.5L0.5 192.5M13.5 195.5L13.5 192.5M3.5 183.5L3.5 183.5L2.5 184.5L1.5 185.5L1.5 187.5L2.5 188.5L3.5 189.5L3.5 189.5L5.5 189.5L7.5 189.5L8.5 189.5L9.5 189.5L10.5 188.5L10.5 187.5L10.5 185.5L10.5 184.5L9.5 183.5L8.5 183.5L7.5 183.5M7.5 185.5L7.5 183.5M1.5 181.5L10.5 179.5M1.5 176.5L10.5 179.5M1.5 176.5L10.5 174.5M1.5 172.5L10.5 174.5M0.5 167.5L13.5 167.5M0.5 167.5L13.5 167.5M0.5 170.5L0.5 167.5M13.5 170.5L13.5 167.5"/><path stroke="#0000e6" d="M527.5 69.5L527.5 78.5M527.5 69.5L533.5 78.5M533.5 69.5L533.5 78.5M538.5 69.5L537.5 70.5L537.5 70.5L536.5 71.5L536.5 73.5L536.5 75.5L536.5 76.5L537.5 77.5L537.5 78.5L538.5 78.5L540.5 78.5L541.5 78.5L542.5 77.5L542.5 76.5L542.5 75.5L542.5 73.5L542.5 71.5L542.5 70.5L541.5 70.5L540.5 69.5L538.5 69.5M547.5 69.5L544.5 78.5M547.5 69.5L551.5 78.5M545.5 75.5L550.5 75.5M555.5 69.5L552.5 78.5M555.5 69.5L558.5 78.5M553.5 75.5L557.5 75.5M560.5 74.5L568.5 74.5M572.5 71.5L573.5 70.5L574.5 69.5L574.5 78.5M584.5 69.5L580.5 69.5L580.5 73.5L580.5 73.5L581.5 72.5L582.5 72.5L584.5 73.5L585.5 73.5L585.5 75.5L585.5 75.5L585.5 77.5L584.5 78.5L582.5 78.5L581.5 78.5L580.5 78.5L580.5 77.5L579.5 76.5"/><path stroke="#00b4ff" d="M527.5 90.5L527.5 99.5M527.5 90.5L533.5 99.5M533.5 90.5L533.5 99.5M538.5 90.5L537.5 91.5L537.5 91.5L536.5 92.5L536.5 94.5L536.5 96.5L536.5 97.5L537.5 98.5L537.5 99.5L538.5 99.5L540.5 99.5L541.5 99.5L542.5 98.5L542.5 97.5L542.5 96.5L542.5 94.5L542.5 92.5L542.5 91.5L541.5 91.5L540.5 90.5L538.5 90.5M547.5 90.5L544.5 99.5M547.5 90.5L551.5 99.5M545.5 96.5L550.5 96.5M555.5 90.5L552.5 99.5M555.5 90.5L558.5 99.5M553.5 96.5L557.5 96.5M560.5 95.5L568.5 95.5M572.5 92.5L573.5 91.5L574.5 90.5L574.5 99.5M585.5 91.5L584.5 91.5L583.5 90.5L582.5 90.5L581.5 91.5L580.5 92.5L580.5 94.5L580.5 96.5L580.5 98.5L581.5 99.5L582.5 99.5L582.5 99.5L584.5 99.5L585.5 98.5L585.5 96.5L585.5 96.5L585.5 95.5L584.5 94.5L582.5 94.5L582.5 94.5L581.5 94.5L580.5 95.5L580.5 96.5"/><path stroke="#1eff3c" d="M527.5 112.5L527.5 121.5M527.5 112.5L533.5 121.5M533.5 112.5L533.5 121.5M538.5 112.5L537.5 113.5L537.5 113.5L536.5 114.5L536.5 116.5L536.5 118.5L536.5 119.5L537.5 120.5L537.5 121.5L538.5 121.5L540.5 121.5L541.5 121.5L542.5 120.5L542.5 119.5L542.5 118.5L542.5 116.5L542.5 114.5L542.5 113.5L541.5 113.5L540.5 112.5L538.5 112.5M547.5 112.5L544.5 121.5M547.5 112.5L551.5 121.5M545.5 118.5L550.5 118.5M555.5 112.5L552.5 121.5M555.5 112.5L558.5 121.5M553.5 118.5L557.5 118.5M560.5 117.5L568.5 117.5M572.5 114.5L573.5 113.5L574.5 112.5L574.5 121.5M581.5 112.5L580.5 113.5L580.5 113.5L580.5 114.5L580.5 115.5L581.5 116.5L582.5 116.5L584.5 116.5L585.5 117.5L585.5 118.5L585.5 119.5L585.5 120.5L584.5 121.5L583.5 121.5L581.5 121.5L580.5 121.5L580.5 120.5L579.5 119.5L579.5 118.5L580.5 117.5L580.5 116.5L582.5 116.5L583.5 116.5L584.5 115.5L585.5 114.5L585.5 113.5L584.5 113.5L583.5 112.5L581.5 112.5"/><path stroke="#ff8c14" d="M527.5 133.5L527.5 142.5M527.5 133.5L533.5 142.5M533.5 133.5L533.5 142.5M538.5 133.5L538.5 134.5L537.5 134.5L536.5 135.5L536.5 137.5L536.5 139.5L536.5 140.5L537.5 141.5L538.5 142.5L538.5 142.5L540.5 142.5L541.5 142.5L542.5 141.5L542.5 140.5L543.5 139.5L543.5 137.5L542.5 135.5L542.5 134.5L541.5 134.5L540.5 133.5L538.5 133.5M548.5 133.5L544.5 142.5M548.5 133.5L551.5 142.5M545.5 139.5L550.5 139.5M555.5 133.5L552.5 142.5M555.5 133.5L559.5 142.5M553.5 139.5L557.5 139.5M561.5 138.5L568.5 138.5M572.5 135.5L573.5 134.5L574.5 133.5L574.5 142.5M585.5 136.5L585.5 137.5L584.5 138.5L582.5 139.5L582.5 139.5L581.5 138.5L580.5 137.5L580.5 136.5L580.5 136.5L580.5 134.5L581.5 134.5L582.5 133.5L582.5 133.5L584.5 134.5L585.5 134.5L585.5 136.5L585.5 138.5L585.5 140.5L584.5 142.5L582.5 142.5L582.5 142.5L580.5 142.5L580.5 141.5"/><path stroke="#0a3cff" d="M531.5 215.5L539.5 215.5M551.5 210.5L550.5 211.5L549.5 211.5L549.5 212.5L548.5 214.5L548.5 216.5L549.5 217.5L549.5 218.5L550.5 219.5L551.5 219.5L553.5 219.5L553.5 219.5L554.5 218.5L555.5 217.5L555.5 216.5L555.5 214.5L555.5 212.5L554.5 211.5L553.5 211.5L553.5 210.5L551.5 210.5M557.5 213.5L560.5 219.5M562.5 213.5L560.5 219.5M569.5 213.5L569.5 219.5M569.5 214.5L569.5 214.5L568.5 213.5L567.5 213.5L566.5 214.5L565.5 214.5L564.5 216.5L564.5 216.5L565.5 218.5L566.5 219.5L567.5 219.5L568.5 219.5L569.5 219.5L569.5 218.5M573.5 210.5L573.5 217.5L574.5 219.5L575.5 219.5L575.5 219.5M572.5 213.5L575.5 213.5M578.5 210.5L578.5 211.5L578.5 210.5L578.5 210.5L578.5 210.5M578.5 213.5L578.5 219.5M583.5 213.5L582.5 214.5L581.5 214.5L581.5 216.5L581.5 216.5L581.5 218.5L582.5 219.5L583.5 219.5L584.5 219.5L585.5 219.5L586.5 218.5L586.5 216.5L586.5 216.5L586.5 214.5L585.5 214.5L584.5 213.5L583.5 213.5M589.5 213.5L589.5 219.5M589.5 215.5L591.5 214.5L591.5 213.5L593.5 213.5L594.5 214.5L594.5 215.5L594.5 219.5M527.5 222.5L527.5 231.5M527.5 222.5L531.5 222.5L532.5 223.5L532.5 223.5L533.5 224.5L533.5 225.5L532.5 226.5L532.5 226.5L531.5 227.5L527.5 227.5M536.5 225.5L536.5 231.5M536.5 228.5L536.5 226.5L537.5 226.5L538.5 225.5L539.5 225.5M541.5 222.5L541.5 223.5L542.5 222.5L541.5 222.5L541.5 222.5M541.5 225.5L541.5 231.5M545.5 225.5L545.5 231.5M545.5 227.5L546.5 226.5L547.5 225.5L548.5 225.5L549.5 226.5L549.5 227.5L549.5 231.5M549.5 227.5L551.5 226.5L552.5 225.5L553.5 225.5L554.5 226.5L554.5 227.5L554.5 231.5M557.5 228.5L562.5 228.5L562.5 227.5L562.5 226.5L561.5 226.5L560.5 225.5L559.5 225.5L558.5 226.5L557.5 226.5L557.5 228.5L557.5 228.5L557.5 230.5L558.5 231.5L559.5 231.5L560.5 231.5L561.5 231.5L562.5 230.5M572.5 222.5L572.5 231.5M578.5 222.5L578.5 231.5M572.5 226.5L578.5 226.5M581.5 222.5L581.5 231.5M581.5 222.5L585.5 222.5L586.5 223.5L587.5 223.5L587.5 224.5L587.5 225.5L587.5 226.5L586.5 226.5L585.5 227.5L581.5 227.5M590.5 222.5L590.5 231.5"/>
<path stroke="#000" d="M527.5 307.5H534.5M531.5 303.5V311.5"/>
</g>
<path shape-rendering="crispEdges" fill="#000" d="M528 335h1v1h-1zM526 336h1v1h-1zM528 336h1v1h-1zM531 336h1v1h-1zM527 337h1v1h-1zM528 337h1v1h-1zM529 337h1v1h-1zM530 337h1v1h-1zM527 338h1v1h-1zM528 338h1v1h-1zM529 338h1v1h-1zM530 338h1v1h-1zM526 339h1v1h-1zM528 339h1v1h-1zM531 339h1v1h-1zM528 340h1v1h-1z"/>
</svg>
</body></html>
